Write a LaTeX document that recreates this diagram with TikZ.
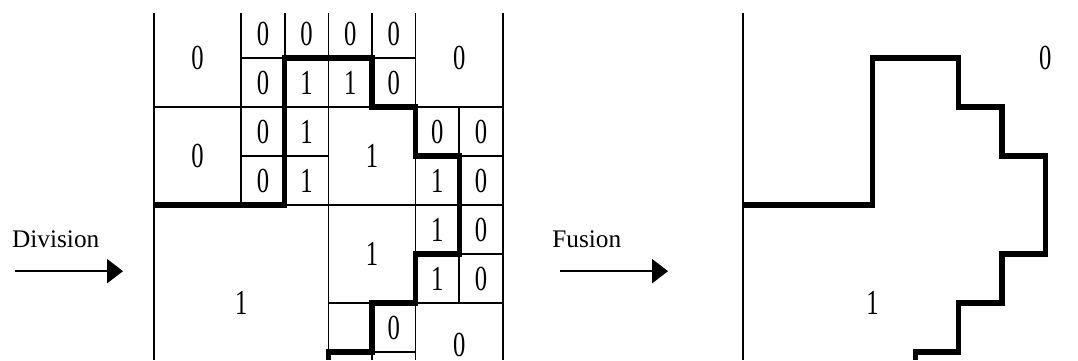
\documentclass[tikz,border=0pt]{standalone}
\usepackage{fontspec}
\setmainfont{Liberation Serif}
\usetikzlibrary{arrows.meta, positioning}

\tikzset{
  gridline/.style={line width=1.2pt},
  border/.style={line width=3.6pt},
  digit/.style={font=\fontsize{25}{27}\selectfont, xscale=0.7, inner sep=0pt},
  word/.style={font=\fontsize{18}{20}\selectfont, anchor=west, inner sep=0pt},
  flow/.style={line width=1.5pt, -{Triangle[length=0.4cm, width=0.6cm]}}
}

\begin{document}
\begin{tikzpicture}[x=1.09cm, y=-1.225cm]
  \useasboundingbox (-3.532,-0.184) rectangle (21.193,7.163);
  \def\ytop{0.077}
  \def\ybot{7.163}

  % division: quadtree cells
  \foreach \c in {0,4,6,8} {
    \draw[gridline] (\c,\ytop) -- (\c,\ybot);
  }
  \draw[gridline] (2,\ytop) -- (2,4);
  \draw[gridline] (3,\ytop) -- (3,4);
  \draw[gridline] (5,\ytop) -- (5,2);
  \draw[gridline] (5,6) -- (5,\ybot);
  \draw[gridline] (7,2) -- (7,6);
  \foreach \r in {2,4} {
    \draw[gridline] (0,\r) -- (8,\r);
  }
  \draw[gridline] (4,6) -- (8,6);
  \draw[gridline] (2,1) -- (6,1);
  \draw[gridline] (2,3) -- (4,3); \draw[gridline] (6,3) -- (8,3);
  \draw[gridline] (6,5) -- (8,5);
  \draw[gridline] (4,7) -- (6,7);

  % large leaves
  \foreach \c/\r/\v in {1/1/0, 1/3/0, 7/1/0, 5/3/1, 5/5/1, 7/6.86/0, 2/6/1} {
    \node[digit] (b\c) at (\c,\r) {\v};
  }
  % small leaves
  \foreach \c/\r/\v in {2/0/0, 3/0/0, 2/1/0, 3/1/1, 2/2/0, 3/2/1, 2/3/0, 3/3/1,
                        4/0/0, 5/0/0, 4/1/1, 5/1/0, 6/2/0, 7/2/0, 6/3/1, 7/3/0,
                        6/4/1, 7/4/0, 6/5/1, 7/5/0, 5/6/0} {
    \node[digit] (s\c\r) at (\c+0.5,\r+0.5) {\v};
  }

  % region boundary
  \draw[border] (0,4) -- (3,4) -- (3,1) -- (5,1) -- (5,2) -- (6,2) -- (6,3) -- (7,3)
    -- (7,5) -- (6,5) -- (6,6) -- (5,6) -- (5,7) -- (4,7) -- (4,\ybot);

  % fusion: merged regions
  \begin{scope}[shift={(13.51,0)}, xscale=0.99]
    \draw[gridline] (0,\ytop) -- (0,\ybot);
    \draw[border] (0,4) -- (3,4) -- (3,1) -- (5,1) -- (5,2) -- (6,2) -- (6,3) -- (7,3)
      -- (7,5) -- (6,5) -- (6,6) -- (5,6) -- (5,7) -- (4,7) -- (4,\ybot);
    \node[digit] (f0) at (7,1) {0};
    \node[digit] (f1) at (3,6) {1};
  \end{scope}

  % arrows
  \coordinate (d0) at (-3.19,5.35);
  \coordinate (d1) at (-0.71,5.35);
  \node[word] (division) at (-3.26,4.69) {Division};
  \draw[flow] (d0) -- (d1);
  \coordinate (u0) at (9.31,5.35);
  \coordinate (u1) at (11.79,5.35);
  \node[word] (fusion) at (9.13,4.69) {Fusion};
  \draw[flow] (u0) -- (u1);
\end{tikzpicture}
\end{document}
